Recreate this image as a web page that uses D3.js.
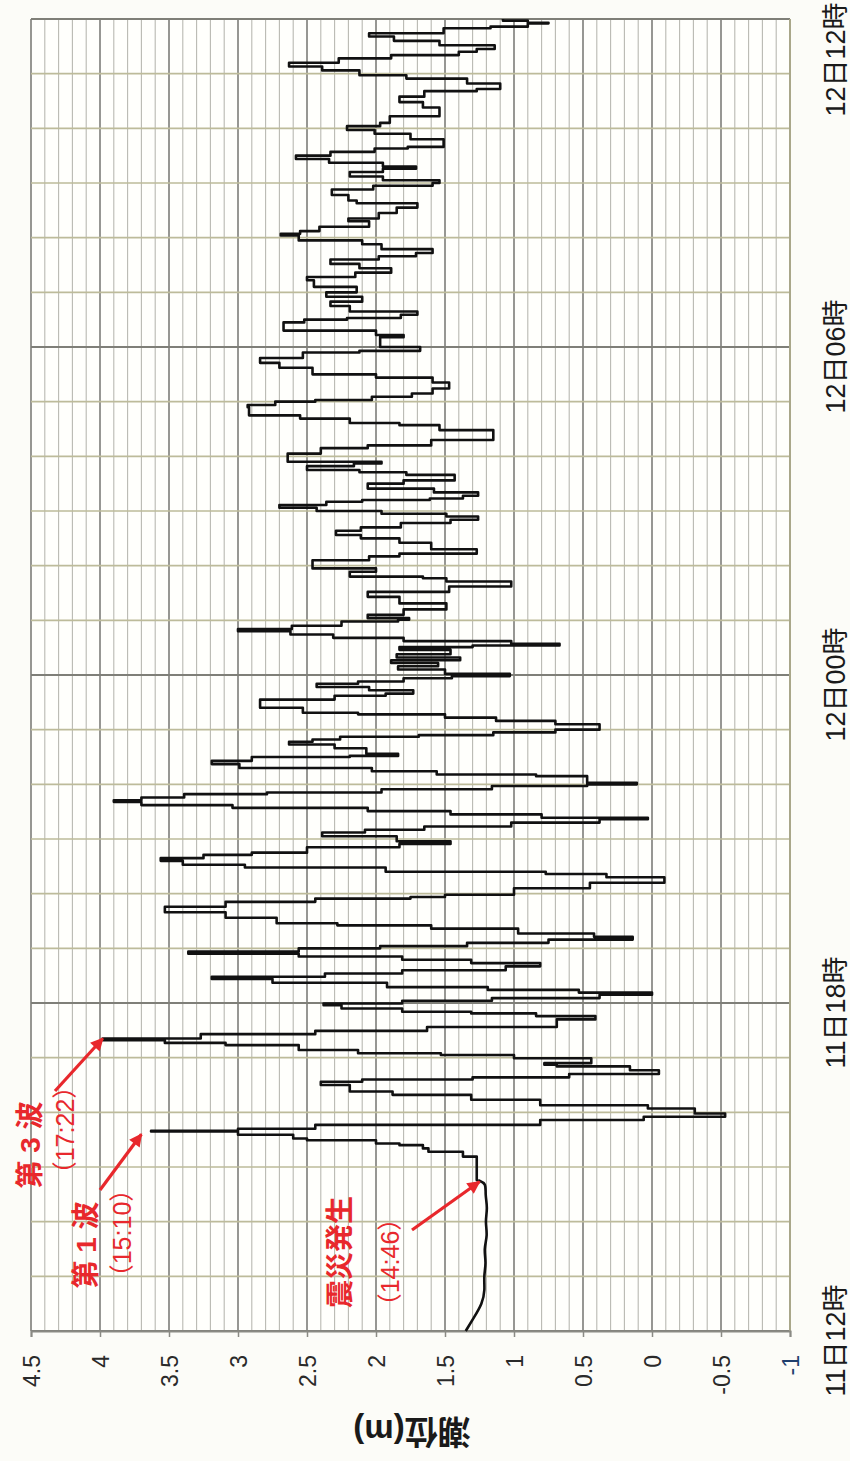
<!DOCTYPE html>
<html>
<head>
<meta charset="utf-8">
<script src="https://cdn.jsdelivr.net/npm/d3@7"></script>
<style>
  body { margin: 0; background: #fcfcf8; }
  text { font-family: "Liberation Sans", "Noto Sans CJK JP", sans-serif; }
</style>
</head>
<body>
<svg></svg>
<script>
// hours after 11日12時, water level (m)
var hours = [
  0.00, 0.25, 0.50, 0.75, 1.00, 1.25, 1.50, 1.75, 2.00, 2.25, 2.50, 2.70, 2.76, 3.19, 3.28, 3.34,
  3.40, 3.43, 3.49, 3.52, 3.59, 3.65, 3.66, 3.70, 3.77, 3.86, 3.92, 3.98, 4.07, 4.13, 4.23, 4.32,
  4.38, 4.50, 4.56, 4.60, 4.64, 4.70, 4.77, 4.84, 4.87, 4.90, 4.99, 5.05, 5.08, 5.14, 5.23, 5.27,
  5.32, 5.35, 5.43, 5.49, 5.56, 5.70, 5.76, 5.81, 5.84, 5.90, 5.96, 5.99, 6.04, 6.09, 6.15, 6.19,
  6.24, 6.29, 6.37, 6.44, 6.48, 6.54, 6.60, 6.67, 6.73, 6.79, 6.85, 6.90, 6.94, 7.00, 7.04, 7.10,
  7.16, 7.21, 7.27, 7.36, 7.42, 7.46, 7.56, 7.66, 7.76, 7.85, 7.91, 7.94, 7.98, 8.10, 8.20, 8.30,
  8.36, 8.40, 8.48, 8.53, 8.60, 8.65, 8.71, 8.75, 8.85, 8.91, 8.96, 9.05, 9.12, 9.17, 9.23, 9.30,
  9.36, 9.39, 9.45, 9.51, 9.57, 9.62, 9.68, 9.71, 9.76, 9.82, 9.85, 9.91, 9.97, 10.00, 10.03, 10.15,
  10.18, 10.24, 10.30, 10.37, 10.43, 10.50, 10.52, 10.56, 10.66, 10.73, 10.78, 10.82, 10.87, 10.90, 10.95, 11.00,
  11.10, 11.16, 11.22, 11.28, 11.31, 11.40, 11.55, 11.62, 11.66, 11.72, 11.78, 11.84, 11.88, 11.94, 11.98, 12.02,
  12.10, 12.16, 12.22, 12.27, 12.32, 12.38, 12.46, 12.51, 12.54, 12.57, 12.62, 12.68, 12.74, 12.80, 12.84, 12.90,
  12.98, 13.01, 13.04, 13.10, 13.20, 13.31, 13.43, 13.52, 13.62, 13.71, 13.77, 13.80, 13.89, 13.95, 14.10, 14.17,
  14.22, 14.30, 14.42, 14.50, 14.56, 14.64, 14.70, 14.78, 14.84, 14.90, 14.95, 15.00, 15.06, 15.11, 15.17, 15.20,
  15.23, 15.28, 15.34, 15.41, 15.50, 15.56, 15.66, 15.71, 15.75, 15.82, 15.87, 15.90, 16.05, 16.15, 16.20, 16.30,
  16.48, 16.57, 16.61, 16.69, 16.75, 16.90, 16.94, 17.00, 17.03, 17.09, 17.15, 17.24, 17.35, 17.44, 17.50, 17.62,
  17.71, 17.80, 17.90, 17.93, 18.00, 18.18, 18.22, 18.30, 18.45, 18.50, 18.53, 18.59, 18.65, 18.75, 18.83, 18.92,
  19.00, 19.10, 19.22, 19.28, 19.36, 19.44, 19.52, 19.60, 19.66, 19.72, 19.79, 19.88, 19.95, 20.04, 20.07, 20.12,
  20.20, 20.30, 20.35, 20.45, 20.55, 20.63, 20.68, 20.78, 20.88, 20.95, 21.00, 21.05, 21.12, 21.20, 21.26, 21.30,
  21.37, 21.44, 21.50, 21.57, 21.63, 21.66, 21.80, 21.90, 21.97, 22.04, 22.10, 22.22, 22.38, 22.48, 22.58, 22.68,
  22.72, 22.82, 22.91, 22.97, 23.06, 23.13, 23.20, 23.28, 23.34, 23.40, 23.45, 23.52, 23.60, 23.68, 23.74, 23.83,
  23.86, 23.92, 23.93, 23.97, 24.00
];
var level = [
  1.35, 1.29, 1.23, 1.21, 1.22, 1.20, 1.22, 1.19, 1.21, 1.19, 1.21, 1.20, 1.26, 1.27, 1.37, 1.62,
  1.66, 1.83, 2.00, 2.50, 2.60, 3.00, 3.63, 3.00, 2.44, 0.81, 0.06, -0.53, -0.31, 0.03, 0.81, 1.31,
  1.88, 2.19, 2.40, 2.10, 1.30, 0.60, -0.05, 0.16, 0.69, 0.78, 0.44, 1.00, 1.53, 2.13, 2.56, 3.09,
  3.53, 3.98, 3.27, 2.44, 1.63, 0.69, 0.41, 0.84, 1.31, 1.81, 2.25, 2.38, 1.81, 1.16, 0.38, 0.00,
  0.53, 1.19, 1.92, 2.75, 3.19, 2.37, 1.81, 1.06, 0.81, 1.31, 1.81, 2.56, 3.36, 2.56, 1.97, 1.34,
  0.75, 0.14, 0.42, 0.97, 1.60, 2.28, 2.72, 3.09, 3.53, 3.09, 2.44, 1.75, 1.50, 1.00, 0.45, -0.09,
  0.33, 0.77, 1.93, 2.95, 3.40, 3.56, 3.25, 2.90, 2.50, 1.83, 1.46, 1.85, 2.39, 2.08, 1.65, 1.02,
  0.38, 0.03, 0.80, 1.46, 2.06, 3.04, 3.70, 3.90, 3.70, 3.39, 2.79, 1.96, 1.16, 0.47, 0.11, 0.47,
  0.84, 1.56, 2.03, 2.99, 3.19, 2.90, 2.19, 1.84, 2.07, 2.30, 2.63, 2.46, 2.26, 1.69, 1.15, 0.70,
  0.38, 0.70, 1.13, 1.50, 2.13, 2.53, 2.84, 2.30, 1.93, 1.73, 2.05, 2.43, 2.13, 1.80, 1.45, 1.03,
  1.50, 1.84, 1.55, 1.89, 1.39, 1.85, 1.46, 1.83, 1.30, 0.67, 1.02, 1.80, 2.31, 2.62, 3.00, 2.61,
  2.25, 1.84, 1.76, 2.06, 1.80, 1.49, 1.83, 2.06, 1.47, 1.02, 1.49, 1.66, 2.19, 2.00, 2.46, 2.05,
  1.83, 1.27, 1.60, 1.83, 2.11, 2.29, 2.11, 1.82, 1.46, 1.26, 1.49, 1.96, 2.43, 2.70, 2.36, 2.10,
  1.61, 1.37, 1.26, 1.58, 2.06, 1.80, 1.43, 1.78, 2.12, 2.50, 2.16, 1.96, 2.64, 2.40, 2.06, 1.60,
  1.15, 1.54, 1.83, 2.19, 2.55, 2.92, 2.93, 2.73, 2.44, 2.03, 1.74, 1.59, 1.47, 1.59, 2.00, 2.46,
  2.70, 2.84, 2.53, 2.12, 1.68, 1.97, 1.80, 2.00, 2.67, 2.52, 2.21, 1.82, 1.70, 2.19, 2.33, 2.10,
  2.36, 2.14, 2.45, 2.50, 2.15, 1.89, 2.12, 2.33, 1.98, 1.71, 1.59, 1.96, 2.10, 2.56, 2.69, 2.55,
  2.41, 2.05, 2.20, 1.98, 1.85, 1.70, 2.14, 2.20, 2.32, 2.02, 1.59, 1.54, 1.95, 2.19, 1.95, 1.71,
  1.95, 2.34, 2.58, 2.33, 2.01, 1.77, 1.51, 1.75, 2.01, 2.21, 1.97, 1.90, 1.54, 1.66, 1.83, 1.65,
  1.27, 1.10, 1.34, 1.78, 2.12, 2.39, 2.63, 2.27, 1.89, 1.40, 1.27, 1.14, 1.54, 1.87, 2.05, 1.51,
  1.17, 0.90, 0.75, 0.90, 1.08
];

var valueTicks = [4.5, 4, 3.5, 3, 2.5, 2, 1.5, 1, 0.5, 0, -0.5, -1];
var timeTicks = [0, 6, 12, 18, 24];
var timeLabels = ["11日12時", "11日18時", "12日00時", "12日06時", "12日12時"];

var noteNames = ["震災発生", "第 1 波", "第 3 波"];
var noteTimes = ["（14:46）", "（15:10）", "（17:22）"];
var noteHours = [2.73, 3.6, 5.35];
var noteLevels = [1.25, 3.7, 3.98];

var svg = d3.select("svg").attr("width", 850).attr("height", 1461);

// chart is drawn turned a quarter turn: level runs left-right, time runs bottom-top
var x = d3.scaleLinear().domain([4.5, -1]).range([31, 790]);
var y = d3.scaleLinear().domain([0, 24]).range([1331, 19]);

svg.append("rect")
    .attr("x", x(4.5)).attr("y", y(24))
    .attr("width", x(-1) - x(4.5)).attr("height", y(0) - y(24))
    .attr("fill", "#fffffc");

// grid
var minor = d3.range(-10, 46).map(function (i) { return i / 10; });
function isMajor(d) { return Math.abs(d * 2 - Math.round(d * 2)) < 1e-6; }
svg.append("g").selectAll("line").data(minor).enter().append("line")
    .attr("x1", function (d) { return x(d); }).attr("x2", function (d) { return x(d); })
    .attr("y1", y(24)).attr("y2", y(0))
    .attr("stroke", function (d) { return isMajor(d) ? "#7d7d78" : "#b9b9b2"; })
    .attr("stroke-width", function (d) { return isMajor(d) ? 1.6 : 1.1; });

svg.append("g").selectAll("line").data(d3.range(0, 25)).enter().append("line")
    .attr("x1", x(4.5)).attr("x2", x(-1))
    .attr("y1", function (d) { return y(d); }).attr("y2", function (d) { return y(d); })
    .attr("stroke", function (d) { return d % 6 === 0 ? "#7f7f78" : "#bdbb9a"; })
    .attr("stroke-width", function (d) { return d % 6 === 0 ? 1.8 : 1.6; });

svg.append("line")
    .attr("x1", x(-1)).attr("x2", x(-1)).attr("y1", y(24)).attr("y2", y(0))
    .attr("stroke", "#a9a78a").attr("stroke-width", 2);

// value axis (bottom)
var xAxis = svg.append("g")
    .attr("transform", "translate(0," + y(0) + ")")
    .call(d3.axisBottom(x).tickValues(valueTicks).tickSize(6).tickFormat(function (d) { return String(d); }));
xAxis.select(".domain").attr("stroke", "#8a8a84").attr("stroke-width", 2);
xAxis.selectAll(".tick line").attr("stroke", "#8a8a84").attr("stroke-width", 1.5);
xAxis.selectAll(".tick text")
    .attr("transform", "rotate(-90)")
    .attr("x", -24).attr("y", 0).attr("dy", "0.36em")
    .attr("text-anchor", "end")
    .attr("font-size", 23)
    .attr("fill", function (d) { return d === -1 ? "#1f3f6e" : "#2a2a2a"; });

// time axis (right)
var tAxis = svg.append("g")
    .attr("transform", "translate(" + x(-1) + ",0)")
    .call(d3.axisRight(y).tickValues(timeTicks).tickSize(0)
        .tickFormat(function (d, i) { return timeLabels[i]; }));
tAxis.select(".domain").remove();
tAxis.selectAll(".tick text")
    .attr("transform", "rotate(-90)")
    .attr("x", function (d, i) { return i === timeTicks.length - 1 ? 17 : -9; })
    .attr("y", 45).attr("dy", "0.36em")
    .attr("text-anchor", function (d, i) { return i === timeTicks.length - 1 ? "end" : "middle"; })
    .attr("font-size", 27)
    .attr("fill", "#1a1a1a");

// axis title, upside down
svg.append("text")
    .attr("transform", "translate(412,1432) rotate(180)")
    .attr("text-anchor", "middle").attr("dy", "0.36em")
    .attr("font-size", 33).attr("font-weight", "bold")
    .attr("fill", "#1a1a1a")
    .text("潮位(m)");

// tide trace: smooth before the quake, stepped once the waves arrive
var points = hours.map(function (h, i) { return { t: h, v: level[i] }; });
var split = hours.indexOf(2.76);
var line = d3.line()
    .x(function (d) { return x(d.v); })
    .y(function (d) { return y(d.t); });
svg.append("path")
    .datum(points.slice(0, split + 1))
    .attr("d", line.curve(d3.curveBasis))
    .attr("fill", "none")
    .attr("stroke", "#111")
    .attr("stroke-width", 2.6);
svg.append("path")
    .datum(points.slice(split))
    .attr("d", line.curve(d3.curveStepAfter))
    .attr("fill", "none")
    .attr("stroke", "#111")
    .attr("stroke-width", 2.6)
    .attr("stroke-linejoin", "round");

// annotations
var red = "#e8282c";
svg.append("defs").append("marker")
    .attr("id", "head")
    .attr("viewBox", "0 0 10 10")
    .attr("refX", 9).attr("refY", 5)
    .attr("markerUnits", "userSpaceOnUse")
    .attr("markerWidth", 15).attr("markerHeight", 13)
    .attr("orient", "auto")
    .append("path").attr("d", "M0,0 L10,5 L0,10 z").attr("fill", red);

var noteLayout = [
    { nx: 340, ny: 1252, tx: 390, ty: 1262, ax: 412, ay: 1230 },
    { nx: 86, ny: 1245, tx: 122, ty: 1233, ax: 100, ay: 1190 },
    { nx: 30, ny: 1145, tx: 65, ty: 1130, ax: 55, ay: 1091 }
];

noteNames.forEach(function (name, i) {
    var L = noteLayout[i];
    svg.append("text")
        .attr("transform", "translate(" + L.nx + "," + L.ny + ") rotate(-90)")
        .attr("text-anchor", "middle").attr("dy", "0.36em")
        .attr("font-size", 28).attr("font-weight", "bold")
        .attr("fill", red)
        .text(name);
    svg.append("text")
        .attr("transform", "translate(" + L.tx + "," + L.ty + ") rotate(-90)")
        .attr("text-anchor", "middle").attr("dy", "0.36em")
        .attr("font-size", 25)
        .attr("fill", red)
        .text(noteTimes[i]);
    svg.append("line")
        .attr("x1", L.ax).attr("y1", L.ay)
        .attr("x2", x(noteLevels[i])).attr("y2", y(noteHours[i]))
        .attr("stroke", red).attr("stroke-width", 3.2)
        .attr("marker-end", "url(#head)");
});
</script>
</body>
</html>
